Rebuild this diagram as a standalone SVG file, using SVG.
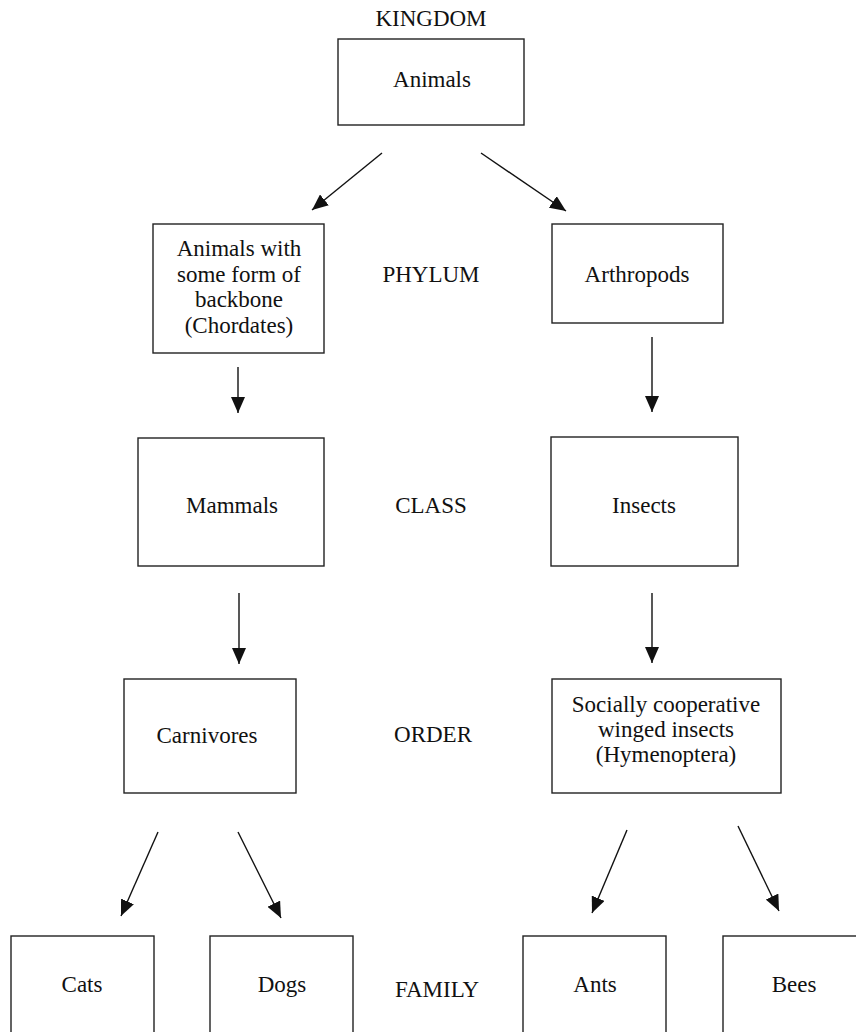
<svg xmlns="http://www.w3.org/2000/svg" width="856" height="1032" viewBox="0 0 856 1032">
<style>
.box{fill:#fff;stroke:#222;stroke-width:1.4}
text{font-family:"Liberation Serif","Times New Roman",serif;font-size:23px;fill:#111;text-anchor:middle}
.con{stroke:#111;stroke-width:1.4;fill:none;marker-end:url(#ah)}
</style>
<defs>
<marker id="ah" markerUnits="userSpaceOnUse" markerWidth="16" markerHeight="14" viewBox="0 0 16 14" refX="16" refY="7" orient="auto">
<path d="M0,0 L16,7 L0,14 z" fill="#111"/>
</marker>
</defs>
<rect width="856" height="1032" fill="#fff"/>
<g id="labels">
<text x="431" y="26">KINGDOM</text>
<text x="431" y="282">PHYLUM</text>
<text x="431" y="513">CLASS</text>
<text x="433" y="742">ORDER</text>
<text x="437" y="997">FAMILY</text>
</g>
<g id="animals"><rect class="box" x="338" y="39" width="186" height="86"/><text x="432" y="87">Animals</text></g>
<g id="chordates"><rect class="box" x="153" y="224" width="171" height="129"/>
<text x="239" y="256">Animals with</text><text x="239" y="282">some form of</text><text x="239" y="307">backbone</text><text x="239" y="333">(Chordates)</text></g>
<g id="arthropods"><rect class="box" x="552" y="224" width="171" height="99"/><text x="637" y="282">Arthropods</text></g>
<g id="mammals"><rect class="box" x="138" y="438" width="186" height="128"/><text x="232" y="513">Mammals</text></g>
<g id="insects"><rect class="box" x="551" y="437" width="187" height="129"/><text x="644" y="513">Insects</text></g>
<g id="carnivores"><rect class="box" x="124" y="679" width="172" height="114"/><text x="207" y="743">Carnivores</text></g>
<g id="hymenoptera"><rect class="box" x="552" y="679" width="229" height="114"/>
<text x="666" y="712">Socially cooperative</text><text x="666" y="737">winged insects</text><text x="666" y="762">(Hymenoptera)</text></g>
<g id="cats"><rect class="box" x="11" y="936" width="143" height="110"/><text x="82" y="992">Cats</text></g>
<g id="dogs"><rect class="box" x="210" y="936" width="143" height="110"/><text x="282" y="992">Dogs</text></g>
<g id="ants"><rect class="box" x="523" y="936" width="143" height="110"/><text x="595" y="992">Ants</text></g>
<g id="bees"><rect class="box" x="723" y="936" width="143" height="110"/><text x="794" y="992">Bees</text></g>
<g id="connectors">
<line class="con" x1="382" y1="153" x2="312" y2="210"/>
<line class="con" x1="481" y1="153" x2="566" y2="211"/>
<line class="con" x1="238" y1="367" x2="238" y2="413"/>
<line class="con" x1="652" y1="337" x2="652" y2="412"/>
<line class="con" x1="239" y1="593" x2="239" y2="664"/>
<line class="con" x1="652" y1="593" x2="652" y2="663"/>
<line class="con" x1="158" y1="832" x2="121" y2="916"/>
<line class="con" x1="238" y1="832" x2="281" y2="918"/>
<line class="con" x1="627" y1="830" x2="592" y2="913"/>
<line class="con" x1="738" y1="826" x2="779" y2="911"/>
</g>
</svg>
